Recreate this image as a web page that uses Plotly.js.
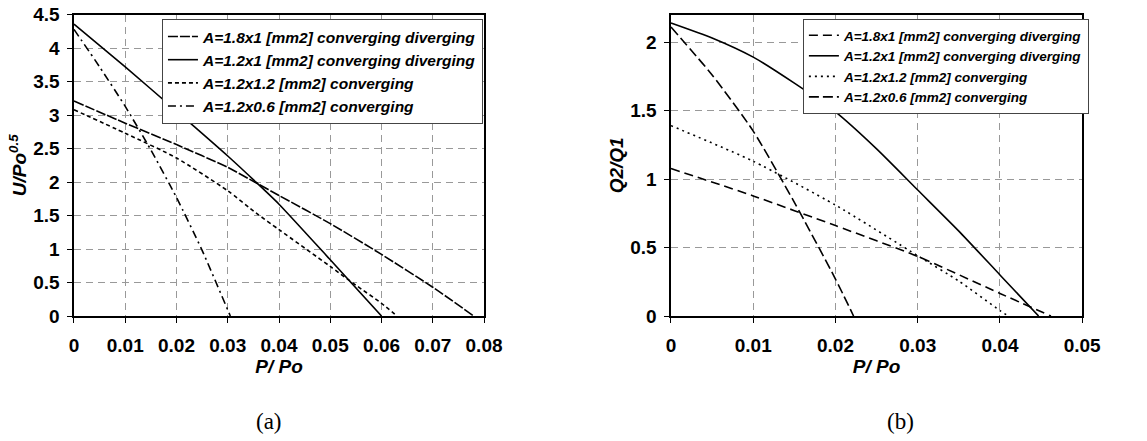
<!DOCTYPE html>
<html>
<head>
<meta charset="utf-8">
<script src="https://cdn.plot.ly/plotly-3.0.1.min.js"></script>
<style>html,body{margin:0;padding:0;background:#fff;}#chart{width:1147px;height:441px;}</style>
</head>
<body>
<div id="chart"></div>
<script>
// ---- Data (a): U/Po^0.5 vs P/Po ----
const seriesNames = [
  "A=1.8x1 [mm2] converging diverging",
  "A=1.2x1 [mm2] converging diverging",
  "A=1.2x1.2 [mm2] converging",
  "A=1.2x0.6 [mm2] converging"
];
const a_x_18x1 = [0, 0.01, 0.02, 0.03, 0.0355, 0.04, 0.05, 0.06, 0.07, 0.078];
const a_y_18x1 = [3.21, 2.88, 2.56, 2.22, 1.99, 1.80, 1.38, 0.92, 0.43, 0];
const a_x_12x1 = [0, 0.01, 0.02, 0.03, 0.0355, 0.04, 0.05, 0.06];
const a_y_12x1 = [4.36, 3.72, 3.06, 2.39, 2.0, 1.67, 0.84, 0];
const a_x_12x12 = [0, 0.01, 0.02, 0.03, 0.0355, 0.04, 0.05, 0.055, 0.06, 0.063];
const a_y_12x12 = [3.08, 2.73, 2.36, 1.87, 1.54, 1.29, 0.74, 0.46, 0.19, 0];
const a_x_12x06 = [0, 0.005, 0.01, 0.015, 0.02, 0.025, 0.0305];
const a_y_12x06 = [4.28, 3.72, 3.13, 2.48, 1.77, 0.98, 0];

// ---- Data (b): Q2/Q1 vs P/Po ----
const b_x_18x1 = [0, 0.01, 0.02, 0.03, 0.04, 0.0462];
const b_y_18x1 = [1.077, 0.877, 0.66, 0.435, 0.165, 0];
const b_x_12x1 = [0, 0.005, 0.01, 0.015, 0.02, 0.025, 0.03, 0.035, 0.04, 0.0447];
const b_y_12x1 = [2.14, 2.03, 1.89, 1.70, 1.49, 1.22, 0.92, 0.62, 0.30, 0];
const b_x_12x12 = [0, 0.01, 0.02, 0.03, 0.035, 0.04, 0.041];
const b_y_12x12 = [1.39, 1.13, 0.81, 0.44, 0.255, 0.04, 0];
const b_x_12x06 = [0, 0.005, 0.01, 0.015, 0.02, 0.0222];
const b_y_12x06 = [2.11, 1.76, 1.35, 0.83, 0.27, 0];

const xTitle = "P/ Po";
const yTitleA = "U/Po<sup>0.5</sup>";
const yTitleB = "Q2/Q1";

const FONT = "Liberation Sans, Arial, sans-serif";
const dashA = ["10px,2px", "solid", "4px,3px", "8px,4px,2px,4px"];
const dashB = ["9px,5px", "solid", "2px,4px", "10px,4px"];

function mk(x, y, i, dash, xa, ya, lg) {
  return {x: x, y: y, type: "scatter", mode: "lines", name: seriesNames[i],
    xaxis: xa, yaxis: ya, legend: lg,
    line: {color: "#000", width: 1.6, dash: dash[i], shape: "spline", smoothing: 0.6}};
}

const traces = [
  mk(a_x_18x1, a_y_18x1, 0, dashA, "x", "y", "legend"),
  mk(a_x_12x1, a_y_12x1, 1, dashA, "x", "y", "legend"),
  mk(a_x_12x12, a_y_12x12, 2, dashA, "x", "y", "legend"),
  mk(a_x_12x06, a_y_12x06, 3, dashA, "x", "y", "legend"),
  mk(b_x_18x1, b_y_18x1, 0, dashB, "x2", "y2", "legend2"),
  mk(b_x_12x1, b_y_12x1, 1, dashB, "x2", "y2", "legend2"),
  mk(b_x_12x12, b_y_12x12, 2, dashB, "x2", "y2", "legend2"),
  mk(b_x_12x06, b_y_12x06, 3, dashB, "x2", "y2", "legend2")
];

const tickFont = {family: FONT, size: 19, color: "#000", weight: 700};
const titleFont = {family: FONT, size: 19, color: "#000", weight: 700, style: "italic"};

function xax(domain, range, anchor) {
  return {domain: domain, range: range, dtick: 0.01, tick0: 0, anchor: anchor,
    showline: true, linecolor: "#000", linewidth: 1.5, mirror: true,
    ticks: "outside", ticklen: 5, tickcolor: "#000", tickwidth: 1,
    showgrid: true, gridcolor: "#999", griddash: "7px,5px", gridwidth: 1,
    zeroline: false, tickfont: tickFont, ticklabelstandoff: 7,
    title: {text: xTitle, font: titleFont, standoff: 0}};
}
function yax(domain, range, anchor, title) {
  return {domain: domain, range: range, dtick: 0.5, tick0: 0, anchor: anchor,
    showline: true, linecolor: "#000", linewidth: 1.5, mirror: true,
    ticks: "outside", ticklen: 5, tickcolor: "#000", tickwidth: 1,
    showgrid: true, gridcolor: "#999", griddash: "7px,5px", gridwidth: 1,
    zeroline: false, tickfont: tickFont, ticklabelstandoff: 4,
    title: {text: title, font: titleFont, standoff: 1}};
}

const yDom = [0.2834, 0.9667];
const layout = {
  width: 1147, height: 441,
  margin: {l: 0, r: 0, t: 0, b: 0},
  paper_bgcolor: "#fff", plot_bgcolor: "#fff",
  font: {family: FONT, color: "#000"},
  xaxis: xax([0.0645, 0.422], [0, 0.08], "y"),
  yaxis: yax(yDom, [0, 4.5], "x", yTitleA),
  xaxis2: xax([0.585, 0.9435], [0, 0.05], "y2"),
  yaxis2: yax(yDom, [0, 2.2], "x2", yTitleB),
  showlegend: true,
  legend: {x: 0.1412, y: 0.957, xanchor: "left", yanchor: "top",
    bgcolor: "#fff", bordercolor: "#444", borderwidth: 1, itemwidth: 30,
    tracegroupgap: 0,
    font: {family: FONT, size: 15.5, color: "#000", weight: 700, style: "italic"}},
  legend2: {x: 0.7, y: 0.957, xanchor: "left", yanchor: "top",
    bgcolor: "#fff", bordercolor: "#444", borderwidth: 1, itemwidth: 30,
    tracegroupgap: 0,
    font: {family: FONT, size: 13.5, color: "#000", weight: 700, style: "italic"}},
  annotations: [
    {text: "(a)", x: 269, y: 421, xref: "paper", yref: "paper", showarrow: false,
     xanchor: "center", yanchor: "middle",
     font: {family: "Liberation Serif, Times New Roman, serif", size: 23, color: "#000"}},
    {text: "(b)", x: 900, y: 421, xref: "paper", yref: "paper", showarrow: false,
     xanchor: "center", yanchor: "middle",
     font: {family: "Liberation Serif, Times New Roman, serif", size: 23, color: "#000"}}
  ]
};
// caption positions given in pixels -> convert to paper fractions
layout.annotations.forEach(function(a){ a.x = a.x / 1147; a.y = 1 - a.y / 441; });

Plotly.newPlot("chart", traces, layout, {displayModeBar: false, staticPlot: true});
</script>
</body>
</html>
